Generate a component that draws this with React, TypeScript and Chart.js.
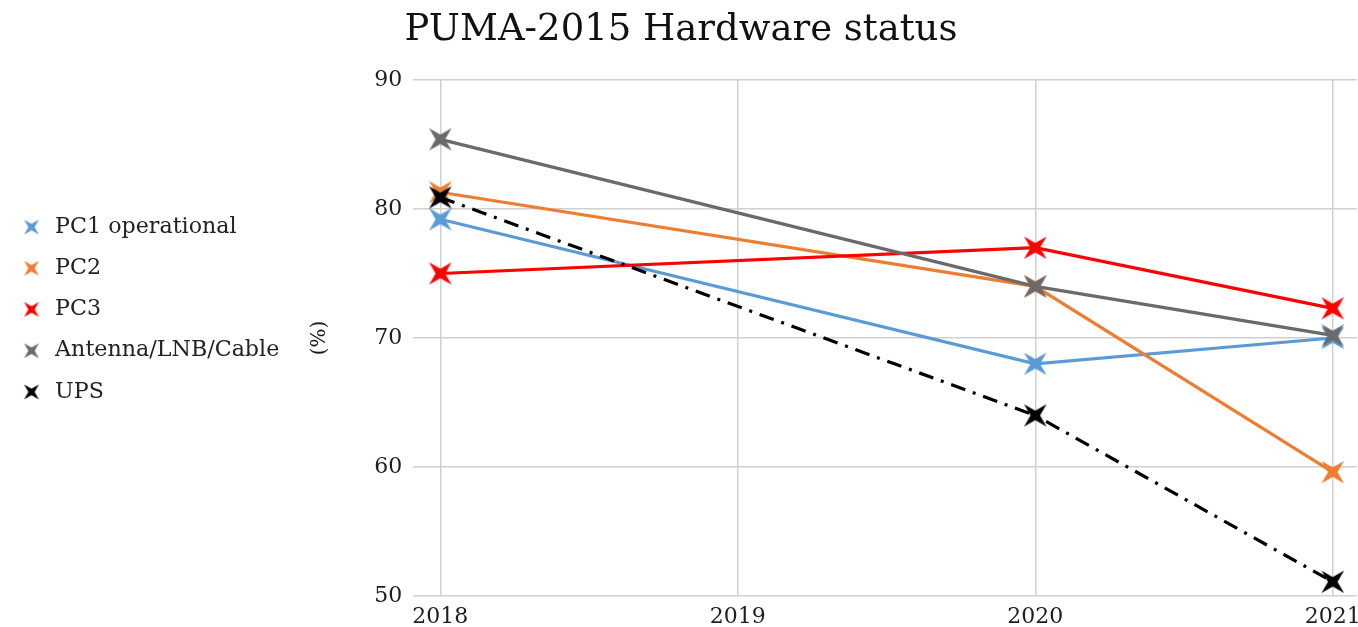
import React, { useEffect, useRef } from "react";
import { Chart, registerables } from "chart.js";

Chart.register(...registerables);

const years = [2018, 2020, 2021];
const xTickValues = [2018, 2019, 2020, 2021];
const yTickValues = [50, 60, 70, 80, 90];

const seriesNames = ["PC1 operational", "PC2", "PC3", "Antenna/LNB/Cable", "UPS"];
const seriesColors = ["#5B9BD5", "#ED7D31", "#FF0000", "#6A6A6A", "#000000"];
const pc1Values = [79.2, 68.0, 70.0];
const pc2Values = [81.3, 74.0, 59.6];
const pc3Values = [75.0, 77.0, 72.3];
const antennaValues = [85.4, 74.0, 70.2];
const upsValues = [80.9, 64.0, 51.1];

const allValues = [pc1Values, pc2Values, pc3Values, antennaValues, upsValues];

const FONT = "'DejaVu Serif', serif";

function makeStar(color: string, r: number): HTMLCanvasElement {
  const c = document.createElement("canvas");
  const s = Math.ceil(r * 1.5 + 2);
  c.width = s;
  c.height = s;
  const ctx = c.getContext("2d")!;
  const cx = s / 2;
  const cy = s / 2;
  const inner = r * 0.3;
  ctx.beginPath();
  for (let i = 0; i < 8; i++) {
    const ang = (Math.PI / 4) * i + Math.PI / 4;
    const rad = i % 2 === 0 ? r : inner;
    const x = cx + Math.cos(ang) * rad;
    const y = cy + Math.sin(ang) * rad;
    if (i === 0) ctx.moveTo(x, y);
    else ctx.lineTo(x, y);
  }
  ctx.closePath();
  ctx.fillStyle = color;
  ctx.fill();
  return c;
}

export default function App() {
  const canvasRef = useRef<HTMLCanvasElement | null>(null);

  useEffect(() => {
    if (!canvasRef.current) return;
    const bigStars = seriesColors.map((c) => makeStar(c, 16));
    const smallStars = seriesColors.map((c) => makeStar(c, 10.5));

    const datasets = seriesNames.map((name, i) => ({
      label: name,
      data: years.map((y, j) => ({ x: y, y: allValues[i][j] })),
      borderColor: seriesColors[i],
      backgroundColor: seriesColors[i],
      borderWidth: 3.2,
      borderDash: i === 4 ? [15, 8, 3, 8] : [],
      pointStyle: bigStars[i] as any,
      pointRadius: 12,
      pointHoverRadius: 12,
      tension: 0,
      order: 10 - i,
    }));

    const chart = new Chart(canvasRef.current, {
      type: "line",
      data: { datasets },
      options: {
        animation: false,
        responsive: true,
        maintainAspectRatio: false,
        layout: { padding: { left: 0, right: 10, top: 0, bottom: 0 } },
        plugins: {
          title: {
            display: true,
            text: "PUMA-2015 Hardware status",
            color: "#111111",
            font: { family: FONT, size: 37, weight: "normal" },
            padding: { top: 8, bottom: 27.6 },
          },
          legend: {
            position: "left",
            align: "start",
            title: {
              display: true,
              text: "",
              font: { size: 10 },
              padding: { top: 185, bottom: 0 },
            },
            labels: {
              usePointStyle: true,
              pointStyleWidth: 25,
              padding: 19,
              color: "#222222",
              font: { family: FONT, size: 22.2 },
              sort: (a: any, b: any) => a.datasetIndex - b.datasetIndex,
              generateLabels: (chart: any) => {
                const items = Chart.defaults.plugins.legend.labels.generateLabels(chart);
                return items.map((it: any) => ({
                  ...it,
                  pointStyle: smallStars[it.datasetIndex],
                  lineDash: [],
                }));
              },
            },
          },
          tooltip: { enabled: false },
        },
        scales: {
          x: {
            type: "linear",
            min: 2017.909,
            max: 2021.081,
            afterBuildTicks: (scale: any) => {
              scale.ticks = xTickValues.map((v) => ({ value: v }));
            },
            afterFit: (scale: any) => {
              scale.paddingLeft = 0;
              scale.paddingRight = 0;
              scale.height = 31;
            },
            grid: { color: "#D0D0D0", lineWidth: 1.5, drawTicks: false },
            border: { display: false },
            ticks: {
              color: "#1E1E1E",
              font: { family: FONT, size: 22 },
              padding: 8,
              maxRotation: 0,
              callback: (v: any) => String(v),
            },
          },
          y: {
            min: 50,
            max: 90,
            afterBuildTicks: (scale: any) => {
              scale.ticks = yTickValues.map((v) => ({ value: v }));
            },
            grid: { color: "#D0D0D0", lineWidth: 1.5, drawTicks: false },
            border: { display: false },
            title: {
              display: true,
              text: "(%)",
              color: "#1E1E1E",
              font: { family: FONT, size: 20 },
              padding: { top: 18, bottom: 32 },
            },
            ticks: {
              color: "#1E1E1E",
              font: { family: FONT, size: 22 },
              padding: 11,
            },
          },
        },
      },
    });
    return () => chart.destroy();
  }, []);

  return (
    <div style={{ position: "fixed", left: 0, top: 0, width: 1372, height: 627 }}>
      <canvas ref={canvasRef} />
    </div>
  );
}
